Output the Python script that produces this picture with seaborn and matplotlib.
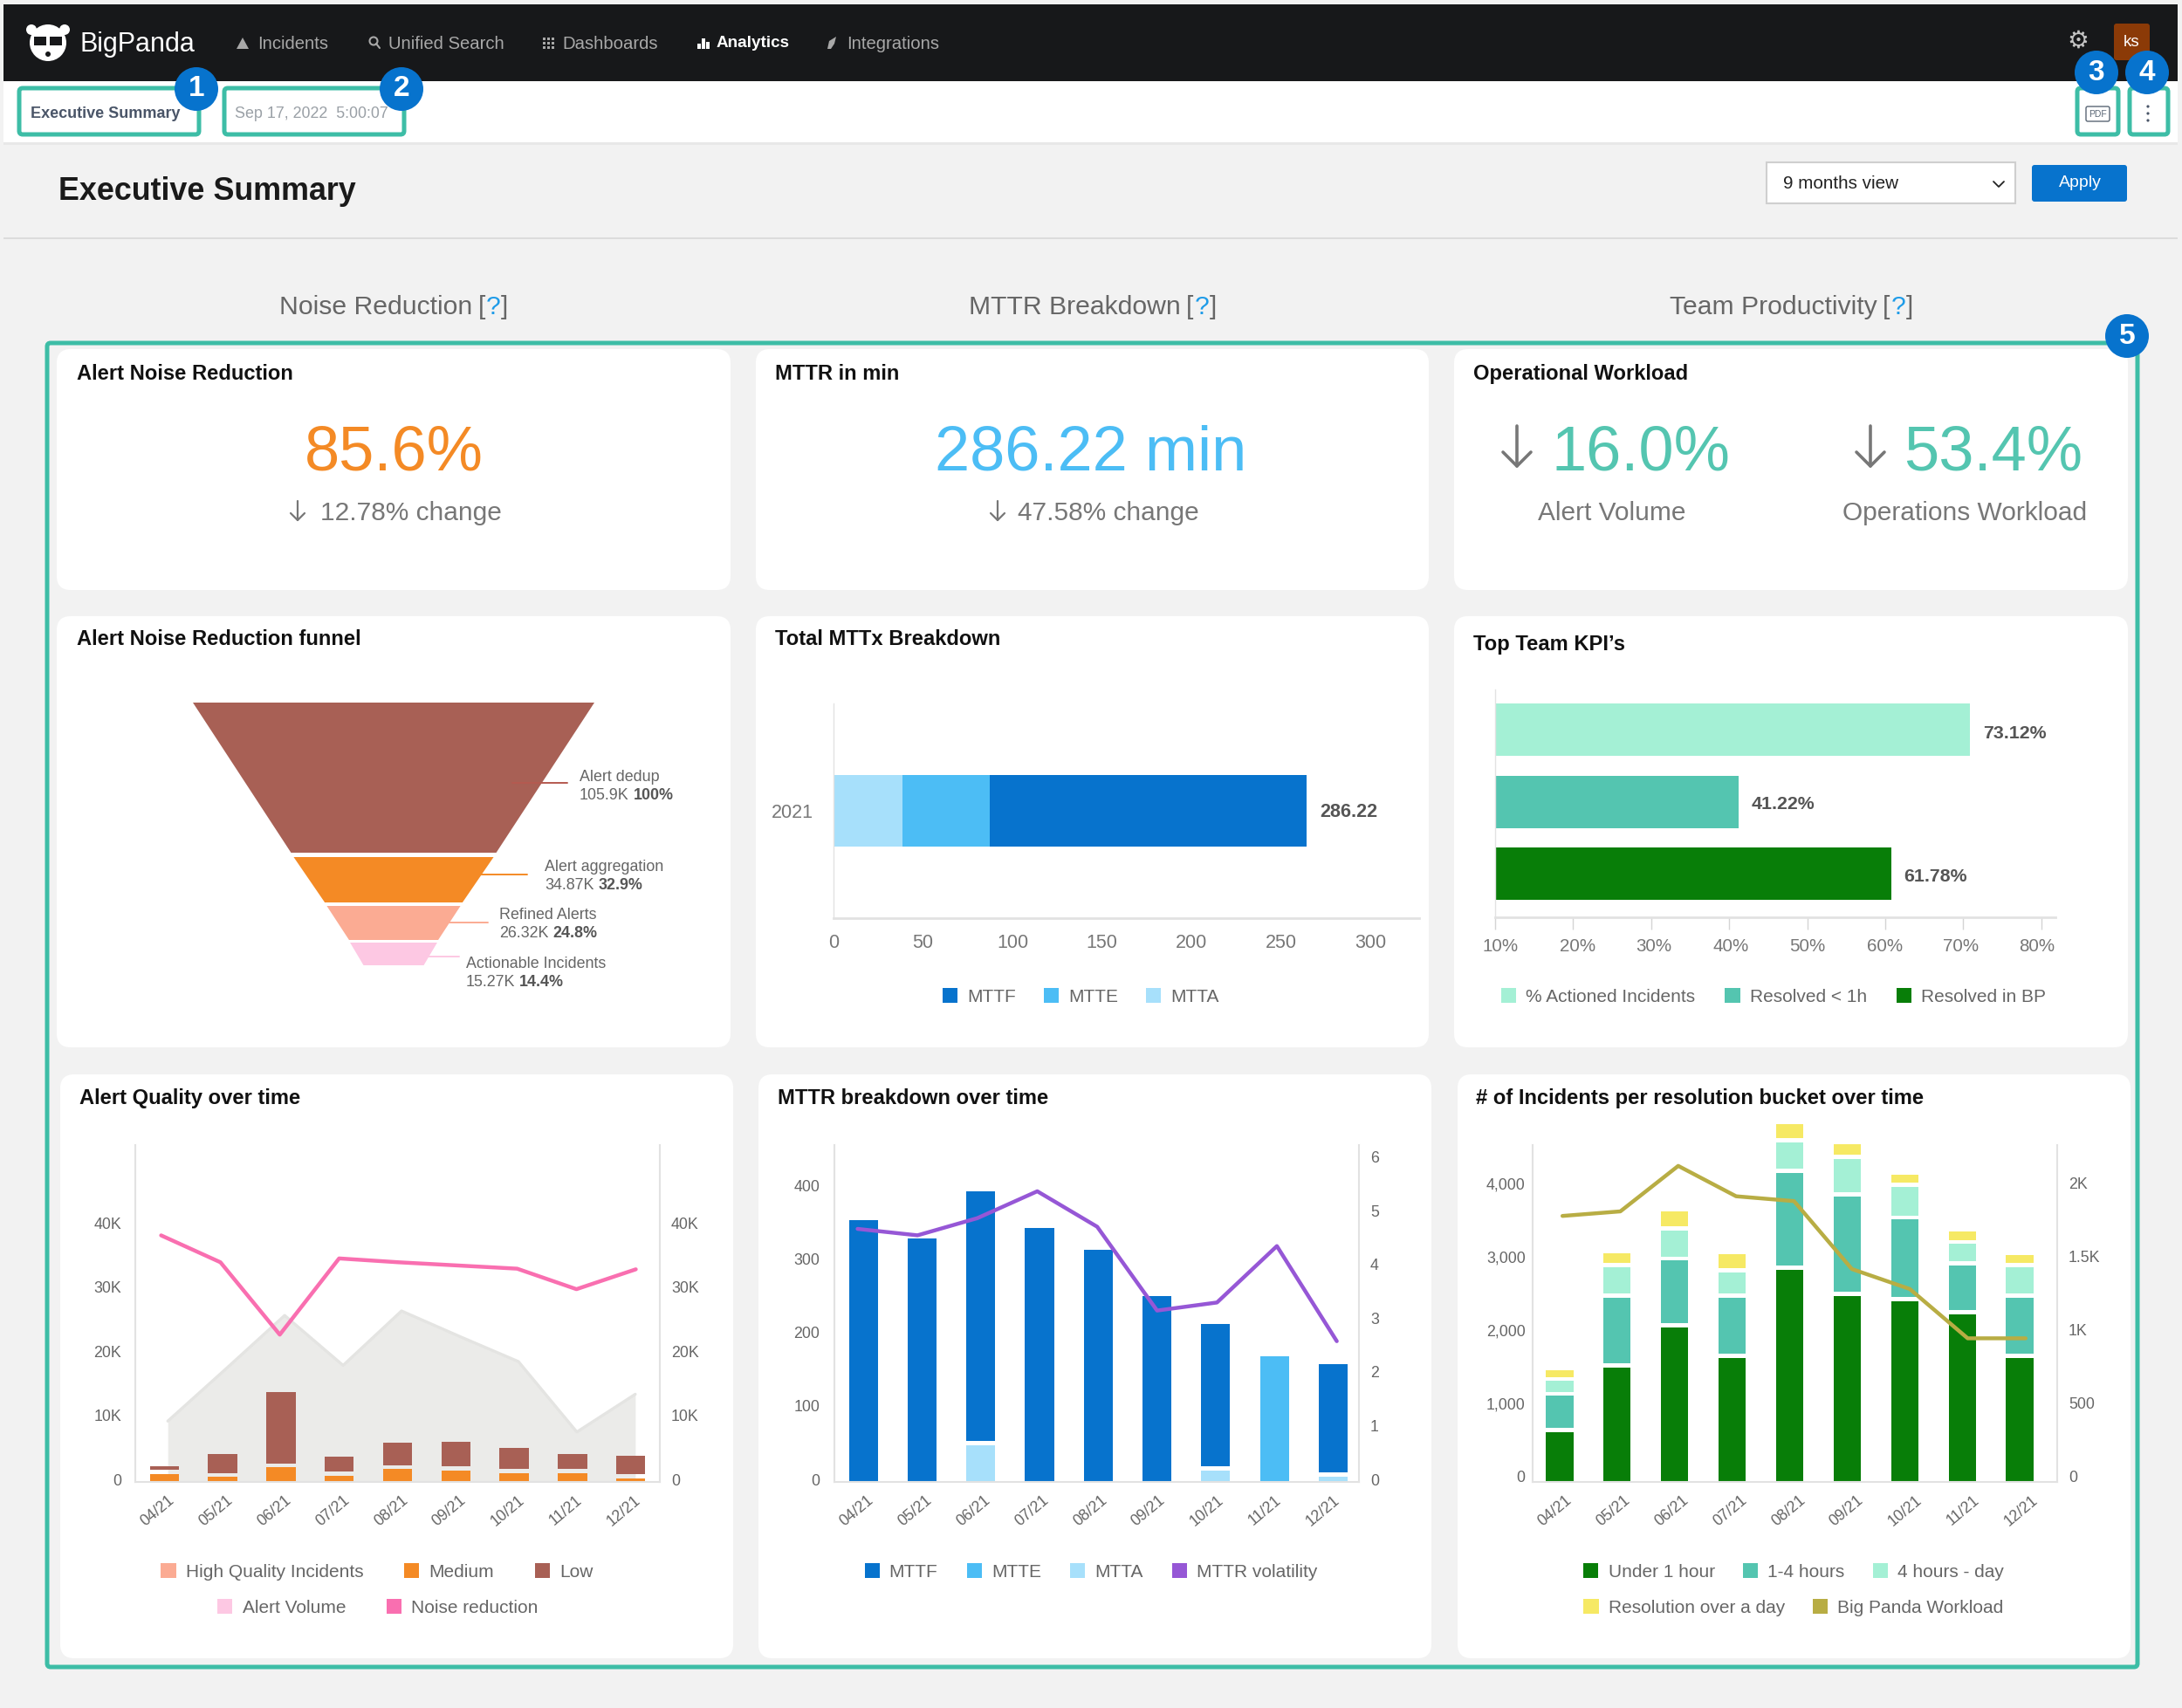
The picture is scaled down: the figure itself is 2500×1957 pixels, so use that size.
import numpy as np
import matplotlib
matplotlib.use('Agg')
import matplotlib.pyplot as plt
import seaborn as sns
from matplotlib.patches import FancyBboxPatch, Rectangle, Circle, Polygon, Patch
from matplotlib.transforms import ScaledTranslation

sns.set_theme(style='white')
plt.rcParams['font.family'] = ['Liberation Sans', 'DejaVu Sans']

W, H = 2500, 1957
GREY = '#666666'

months = ['04/21', '05/21', '06/21', '07/21', '08/21', '09/21', '10/21', '11/21', '12/21']

# alert quality
aq_medium = np.array([1240, 830, 2250, 1000, 2000, 1830, 1420, 1420, 600])
aq_low = np.array([600, 2900, 11200, 2400, 3600, 3850, 3300, 2300, 2850])
aq_volume = [9500, 17700, 26000, 18200, 26700, 22700, 18800, 7800, 13700]
aq_noise = [38500, 34300, 23000, 34900, 34300, 33800, 33300, 30100, 33200]

# mttr over time
mttr_mtta = np.array([0, 0, 50, 0, 0, 0, 16, 0, 7])
mttr_mtte = np.array([0, 0, 0, 0, 0, 0, 0, 171.6, 0])
mttr_mttf = np.array([357.6, 332, 340.6, 346.8, 316, 253.7, 194, 0, 147.8])
mttr_vol = [4.71, 4.59, 4.91, 5.41, 4.75, 3.19, 3.34, 4.39, 2.62]

# incidents per bucket
inc_under1 = np.array([677, 1555, 2107, 1694, 2893, 2536, 2464, 2288, 1694])
inc_1to4 = np.array([439, 904, 852, 764, 1266, 1302, 1054, 610, 764])
inc_4h = np.array([145, 356, 356, 284, 356, 449, 393, 232, 356])
inc_over = np.array([88, 134, 196, 196, 196, 145, 108, 108, 103])
inc_work = [1813, 1844, 2154, 1947, 1914, 1451, 1315, 979, 979]

# totals and kpis
mttx_year = ['2021']
mttx_mtta = [38.3]
mttx_mtte = [48.8]
mttx_mttf = [177]
kpi_names = ['% Actioned Incidents', 'Resolved < 1h', 'Resolved in BP']
kpi_values = [70.8, 41.2, 60.8]
kpi_labels = ['73.12%', '41.22%', '61.78%']

# funnel
funnel_stages = ['Alert dedup', 'Alert aggregation', 'Refined Alerts', 'Actionable Incidents']
funnel_counts = ['105.9K', '34.87K', '26.32K', '15.27K']
funnel_pcts = ['100%', '32.9%', '24.8%', '14.4%']
funnel_top_w = [100, 49.8, 33.3, 21.7]
funnel_bot_w = [51.1, 34.3, 22.2, 15]
funnel_y_top = [0, 177, 233, 275]
funnel_y_bot = [172, 229, 272, 301]

BROWN, ORANGE, SALMON, PINK = '#a86055', '#f48a25', '#fbab93', '#fdc8e3'
HOT = '#f96fb0'
BLUE, SKY, PALE = '#0773cd', '#4cbdf5', '#a7e0fb'
PURPLE = '#9657d6'
GREEN, TEAL, MINT, YELLOW, OLIVE = '#087e08', '#54c5b0', '#a4f0d5', '#f6e964', '#b8ad44'
FRAME = '#3dbda6'

fig = plt.figure(figsize=(25, 19.57), dpi=100, facecolor='#f2f2f2')


def px_axes(x0, y0, x1, y1, z=1):
    a = fig.add_axes([x0 / W, 1 - y1 / H, (x1 - x0) / W, (y1 - y0) / H], zorder=z)
    a.patch.set_visible(False)
    return a


def overlay(z):
    a = px_axes(0, 0, W, H, z)
    a.set_xlim(0, W)
    a.set_ylim(H, 0)
    a.axis('off')
    return a


bg = overlay(0)
top = overlay(10)


def card(x0, y0, x1, y1):
    bg.add_patch(FancyBboxPatch((x0 + 16, y0 + 16), x1 - x0 - 32, y1 - y0 - 32,
                                boxstyle='round,pad=16,rounding_size=16', fc='white', ec='none'))


def txt(x, y, s, size=13, color=GREY, ha='left', weight='normal', ax=None):
    # va=center counts the descent, push the glyphs back onto the line
    return (ax or bg).text(x, y + size * 0.14, s, fontsize=size, color=color, ha=ha, va='center', weight=weight)


def chain(x, y, parts, size, gaps):
    prev = None
    for (s, c, w), gap in zip(parts, [0] + gaps):
        if prev is None:
            prev = txt(x, y, s, size, c, 'left', w)
        else:
            prev = bg.annotate(s, xy=(1, 0), xycoords=prev, xytext=(gap, 0),
                               textcoords='offset points', fontsize=size, color=c,
                               weight=w, va='bottom', ha='left')


def down_arrow(x, y0, y1, w, lw):
    bg.plot([x, x], [y0, y1], color='#777777', lw=lw, solid_capstyle='round')
    bg.plot([x - w, x, x + w], [y1 - w, y1, y1 - w], color='#777777', lw=lw, solid_capstyle='round')


def nudge(labels, dx=0, dy=0):
    off = ScaledTranslation(dx / 100, dy / 100, fig.dpi_scale_trans)
    for lab in labels:
        lab.set_transform(lab.get_transform() + off)


def legend_row(labels, colors, cx, y, spacing):
    handles = [Patch(facecolor=c, edgecolor='none', label=l) for l, c in zip(labels, colors)]
    fig.legend(handles=handles, loc='center', bbox_to_anchor=(cx / W, 1 - (y + 1) / H),
               ncol=len(labels), frameon=False, fontsize=15, handlelength=0.82,
               handleheight=0.82, handletextpad=0.53, columnspacing=spacing,
               labelcolor=GREY, borderpad=0, borderaxespad=0)


def style_spines(a, sides, lw=1.5, color='#e2e2e2'):
    for s in ['left', 'right', 'top', 'bottom']:
        a.spines[s].set_visible(s in sides)
        a.spines[s].set_color(color)
        a.spines[s].set_linewidth(lw)


def stacked(a, series, colors, gap, width):
    bottom = np.zeros(len(months))
    for vals, c in zip(series, colors):
        sns.barplot(x=months, y=vals, bottom=bottom, color=c, saturation=1, width=width,
                    errorbar=None, ax=a, clip_on=False, linewidth=0)
        bottom = bottom + vals + gap * (vals > 0)


def time_chart(box, bar_xlim, ylim, yticks, ylabels, series, colors, gap, width,
               line, line_color, line_xlim, rlim, rticks, rlabels, lpad, lnudge):
    x0, y0, x1, y1 = box
    a = px_axes(x0, y0, x1, y1, 2)
    stacked(a, series, colors, gap, width)
    a.set_xlim(*bar_xlim)
    a.set_ylim(*ylim)
    a.set_xlabel('')
    a.set_xticks(range(9))
    a.set_xticklabels(months, rotation=40, ha='center', va='top')
    a.set_yticks(yticks)
    a.set_yticklabels(ylabels)
    a.tick_params(axis='x', length=0, pad=9, labelsize=12.8, colors=GREY)
    a.tick_params(axis='y', length=0, pad=lpad, labelsize=12.8, colors=GREY)
    style_spines(a, ['left', 'bottom'])
    # tick centres sit on the band, labels lean a little to the left
    step = (x1 - x0) / (bar_xlim[1] - bar_xlim[0])
    for lab, i in zip(a.get_xticklabels(), range(9)):
        want = x0 + (i + 0.5) * (x1 - x0) / 9 - 7.5
        have = x0 + (i - bar_xlim[0]) * step
        nudge([lab], dx=want - have)
    nudge(a.get_yticklabels(), dy=lnudge)

    b = px_axes(x0, y0, x1, y1, 3)
    sns.lineplot(x=list(range(9)), y=line, color=line_color, linewidth=3.2, sort=False,
                 errorbar=None, ax=b, legend=False)
    b.set_xlim(*line_xlim)
    b.set_ylim(*rlim)
    b.set_xlabel('')
    b.set_xticks([])
    b.yaxis.tick_right()
    b.set_yticks(rticks)
    b.set_yticklabels(rlabels)
    b.tick_params(axis='y', length=0, pad=9.4, labelsize=12.8, colors=GREY)
    style_spines(b, ['right'])
    nudge(b.get_yticklabels(), dy=lnudge)
    return a


# page furniture
bg.add_patch(Rectangle((4, 5), 2491, 88, fc='#17181a', ec='none'))
bg.add_patch(Rectangle((4, 93), 2491, 70, fc='white', ec='none'))
bg.add_patch(Rectangle((4, 163), 2491, 3, fc='#e8e8e8', ec='none'))
bg.add_patch(Rectangle((4, 272), 2491, 2, fc='#dcdcdc', ec='none'))

# logo
bg.add_patch(Circle((36, 34), 6, fc='white', ec='none'))
bg.add_patch(Circle((74, 34), 6, fc='white', ec='none'))
bg.add_patch(Circle((55, 49), 21, fc='white', ec='none'))
bg.add_patch(Rectangle((39, 42), 14, 10, fc='#17181a', ec='none'))
bg.add_patch(Rectangle((57, 42), 14, 10, fc='#17181a', ec='none'))
bg.add_patch(Circle((55, 62), 3, fc='#17181a', ec='none'))
txt(91, 48, 'BigPanda', 22, 'white')

nav = [(295, 'Incidents'), (445, 'Unified Search'), (644, 'Dashboards'), (970, 'Integrations')]
for x, s in nav:
    txt(x, 48, s, 14.6, '#a8a8a8')
txt(821, 48, 'Analytics', 13.6, 'white', weight='bold')
bg.add_patch(Polygon([(271, 56), (285, 56), (278, 43)], fc='#a8a8a8', ec='none'))
bg.add_patch(Circle((428, 47), 4.5, fc='none', ec='#a8a8a8', lw=1.5))
bg.plot([431, 435], [50, 55], color='#a8a8a8', lw=1.5)
for i in range(3):
    for j in range(3):
        bg.add_patch(Rectangle((622 + i * 5, 43 + j * 5), 3, 3, fc='#a8a8a8', ec='none'))
for x, h in [(799, 6), (804, 12), (809, 8)]:
    bg.add_patch(Rectangle((x, 56 - h), 3.5, h, fc='white', ec='none'))
bg.add_patch(Polygon([(948, 56), (950, 47), (958, 42), (956, 50), (952, 56)], fc='#a8a8a8', ec='none'))
txt(2381, 45, '\u2699', 20, '#c4c4c4', ha='center')
bg.add_patch(FancyBboxPatch((2424, 29), 37, 38, boxstyle='round,pad=2,rounding_size=3', fc='#8b3a07', ec='none'))
txt(2442, 47, 'ks', 13.5, 'white', ha='center')

txt(35, 129, 'Executive Summary', 13, '#4a5568', weight='bold')
txt(269, 129, 'Sep 17, 2022  5:00:07', 12.9, '#9aa0a6')
bg.add_patch(FancyBboxPatch((2391, 123), 25, 15, boxstyle='round,pad=1,rounding_size=2', fc='white', ec='#5a6675', lw=1))
bg.text(2403.5, 130.5, 'PDF', fontsize=7.5, color='#5a6675', ha='center', va='center')
for y in [122, 130, 138]:
    bg.add_patch(Circle((2461, y), 1.6, fc='#4a5568', ec='none'))

txt(67, 216, 'Executive Summary', 25.8, '#1a1a1a', weight='bold')
bg.add_patch(Rectangle((2024, 186), 285, 47, fc='white', ec='#cfcfcf', lw=1.5))
txt(2043, 208, '9 months view', 14.9, '#222222')
bg.plot([2284, 2290, 2296], [208, 214, 208], color='#222222', lw=1.3)
bg.add_patch(FancyBboxPatch((2331, 192), 103, 36, boxstyle='round,pad=3,rounding_size=3', fc=BLUE, ec='none'))
txt(2383, 208, 'Apply', 14, 'white', ha='center')

for x, s in [(320, 'Noise Reduction'), (1110, 'MTTR Breakdown'), (1913, 'Team Productivity')]:
    chain(x, 349, [(s, GREY, 'normal'), ('[', GREY, 'normal'), ('?', '#1e9be8', 'normal'), (']', GREY, 'normal')],
          21.7, [4.5, 0.6, 0.6])

# cards
for x0, x1 in [(65, 837), (866, 1637), (1666, 2438)]:
    card(x0, 400, x1, 676)
    card(x0, 706, x1, 1200)
for x0, x1 in [(69, 840), (869, 1640), (1670, 2441)]:
    card(x0, 1231, x1, 1900)

TITLE = 17.1
for x, y, s in [(88, 426, 'Alert Noise Reduction'), (888, 426, 'MTTR in min'), (1688, 426, 'Operational Workload'),
                (88, 730, 'Alert Noise Reduction funnel'), (888, 730, 'Total MTTx Breakdown'),
                (1688, 736, 'Top Team KPI\u2019s'), (91, 1256, 'Alert Quality over time'),
                (891, 1256, 'MTTR breakdown over time'), (1691, 1256, '# of Incidents per resolution bucket over time')]:
    txt(x, y, s, TITLE, '#111111', weight='bold')

BIG, MID = 52, 21.5
txt(451, 513, '85.6%', BIG, ORANGE, ha='center')
down_arrow(341, 574, 596, 8, 1.6)
txt(367, 585, '12.78% change', MID, '#777777')
txt(1250, 513, '286.22 min', BIG, SKY, ha='center')
down_arrow(1143, 574, 596, 8, 1.6)
txt(1166, 585, '47.58% change', MID, '#777777')
down_arrow(1738, 488, 534, 16, 2.6)
txt(1880, 513, '16.0%', BIG, TEAL, ha='center')
txt(1847, 585, 'Alert Volume', MID, '#777777', ha='center')
down_arrow(2143, 488, 534, 16, 2.6)
txt(2284, 513, '53.4%', BIG, TEAL, ha='center')
txt(2251, 585, 'Operations Workload', MID, '#777777', ha='center')
bg.set_xlim(0, W)
bg.set_ylim(H, 0)

# funnel
fa = px_axes(221, 805, 681, 1106, 2)
for tw, bw, yt, yb, c in zip(funnel_top_w, funnel_bot_w, funnel_y_top, funnel_y_bot, [BROWN, ORANGE, SALMON, PINK]):
    fa.fill([-tw / 2, tw / 2, bw / 2, -bw / 2], [yt, yt, yb, yb], color=c, lw=0)
fa.set_xlim(-50, 50)
fa.set_ylim(301, 0)
fa.axis('off')
leaders = [(587, 650, 897, '#b55a50'), (550, 604, 1002, ORANGE), (514, 559, 1057, SALMON), (490, 526, 1096, PINK)]
for xa, xb, y, c in leaders:
    top.plot([xa, xb], [y, y], color=c, lw=1.4)
places = [(664, 889, 910), (624, 992, 1013), (572, 1047, 1068), (534, 1103, 1124)]
for (x, y1, y2), s, n, p in zip(places, funnel_stages, funnel_counts, funnel_pcts):
    txt(x, y1, s, 12.9)
    chain(x, y2, [(n, GREY, 'normal'), (p, '#555555', 'bold')], 12.9, [3.5])

# total mttx
ma = px_axes(955, 806, 1626, 1052, 2)
left = 0
for vals, c in [(mttx_mtta, PALE), (mttx_mtte, SKY), (mttx_mttf, BLUE)]:
    sns.barplot(y=mttx_year, x=vals, left=[left], orient='h', color=c, saturation=1,
                width=0.333, errorbar=None, ax=ma, linewidth=0)
    left += vals[0]
ma.set_xlim(0, 327)
ma.set_ylim(0.5, -0.5)
ma.set_xticks([0, 50, 100, 150, 200, 250, 300])
ma.tick_params(axis='x', length=0, pad=13, labelsize=15.5, colors='#777777')
ma.tick_params(axis='y', length=0, pad=17, labelsize=15.5, colors='#777777')
style_spines(ma, ['left', 'bottom'])
ma.spines['left'].set_linewidth(1)
ma.spines['bottom'].set_linewidth(2)
txt(1512, 928, '286.22', 15.6, '#555555', weight='bold')
legend_row(['MTTF', 'MTTE', 'MTTA'], [BLUE, SKY, PALE], 1238, 1141, 1.54)

# kpi bars
ka = px_axes(1713, 790, 2355, 1051, 2)
sns.barplot(y=kpi_names, x=kpi_values, hue=kpi_names, palette=[MINT, TEAL, GREEN], saturation=1,
            width=0.727, errorbar=None, legend=False, ax=ka, linewidth=0)
ka.set_xlim(10, 81.8)
ka.set_ylim(2.606, -0.558)
ka.set_xticks(range(10, 90, 10))
ka.set_xticklabels([f'{v}%' for v in range(10, 90, 10)])
ka.set_yticks([])
ka.set_xlabel('')
ka.set_ylabel('')
ka.tick_params(axis='x', bottom=True, length=10, width=1, color='#d4d4d4', pad=7, labelsize=14.8, labelcolor='#777777')
style_spines(ka, ['left', 'bottom'])
ka.spines['left'].set_linewidth(1)
ka.spines['bottom'].set_linewidth(2)
for lab, dx in zip(ka.get_xticklabels(), [6, 5, 3, 2, 0, -1, -3, -5]):
    nudge([lab], dx=dx)
for x, y, s in zip([2272, 2007, 2181], [838, 919, 1002], kpi_labels):
    txt(x, y, s, 15.4, '#555555', weight='bold')
legend_row(kpi_names, [MINT, TEAL, GREEN], 2032, 1141, 1.63)

# alert quality over time: the area has its own x scale underneath the bars
aa = px_axes(155, 1312, 756, 1698, 1)
aa.fill_between(range(9), aq_volume, color='#ebebe9', lw=0)
sns.lineplot(x=list(range(9)), y=aq_volume, color='#e4e4e2', linewidth=2.4, sort=False, errorbar=None, ax=aa, legend=False)
aa.set_xlim(-0.556, 8.42)
aa.set_ylim(0, 52600)
aa.axis('off')
time_chart((155, 1312, 756, 1698), (-0.5, 8.5), (0, 52600),
           [0, 10000, 20000, 30000, 40000], ['0', '10K', '20K', '30K', '40K'],
           [aq_medium, aq_low], [ORANGE, BROWN], 600, 0.5,
           aq_noise, HOT, (-0.435, 8.405), (0, 52600),
           [0, 10000, 20000, 30000, 40000], ['0', '10K', '20K', '30K', '40K'], 11.5, 3)
legend_row(['High Quality Incidents', 'Medium', 'Low'], [SALMON, ORANGE, BROWN], 432, 1800, 2.26)
legend_row(['Alert Volume', 'Noise reduction'], [PINK, HOT], 433, 1841, 2.26)

time_chart((956, 1312, 1557, 1698), (-0.493, 8.44), (0, 459.4),
           [0, 100, 200, 300, 400], ['0', '100', '200', '300', '400'],
           [mttr_mtta, mttr_mtte, mttr_mttf], [PALE, SKY, BLUE], 5.7, 0.493,
           mttr_vol, PURPLE, (-0.387, 8.37), (0, 6.27),
           [0, 1, 2, 3, 4, 5, 6], ['0', '1', '2', '3', '4', '5', '6'], 12, 3)
legend_row(['MTTF', 'MTTE', 'MTTA', 'MTTR volatility'], [BLUE, SKY, PALE, PURPLE], 1250, 1800, 1.6)

time_chart((1756, 1312, 2357, 1698), (-0.468, 8.65), (0, 4592),
           [0, 1000, 2000, 3000, 4000], ['0', '1,000', '2,000', '3,000', '4,000'],
           [inc_under1, inc_1to4, inc_4h, inc_over], [GREEN, TEAL, MINT, YELLOW], 57, 0.476,
           inc_work, OLIVE, (-0.515, 8.546), (0, 2296),
           [0, 500, 1000, 1500, 2000], ['0', '500', '1K', '1.5K', '2K'], 6, 6)
legend_row(['Under 1 hour', '1-4 hours', '4 hours - day'], [GREEN, TEAL, MINT], 2055, 1800, 1.55)
legend_row(['Resolution over a day', 'Big Panda Workload'], [YELLOW, OLIVE], 2055, 1841, 1.55)

# teal highlight frames and numbered badges
for x0, y0, x1, y1 in [(22, 101, 228, 154), (257, 101, 463, 154), (2380, 101, 2427, 154),
                       (2440, 101, 2484, 154), (54, 393, 2449, 1910)]:
    top.add_patch(FancyBboxPatch((x0, y0), x1 - x0, y1 - y0, boxstyle='round,pad=0,rounding_size=4',
                                 fc='none', ec=FRAME, lw=3.6))
for x, y, s in [(225, 102, '1'), (460, 102, '2'), (2402, 83, '3'), (2460, 83, '4'), (2437, 385, '5')]:
    top.add_patch(Circle((x, y), 25, fc=BLUE, ec='none'))
    top.text(x, y, s, fontsize=24, color='white', weight='bold', ha='center', va='center')
top.set_xlim(0, W)
top.set_ylim(H, 0)

fig.savefig('out.png', dpi=100, facecolor=fig.get_facecolor())
